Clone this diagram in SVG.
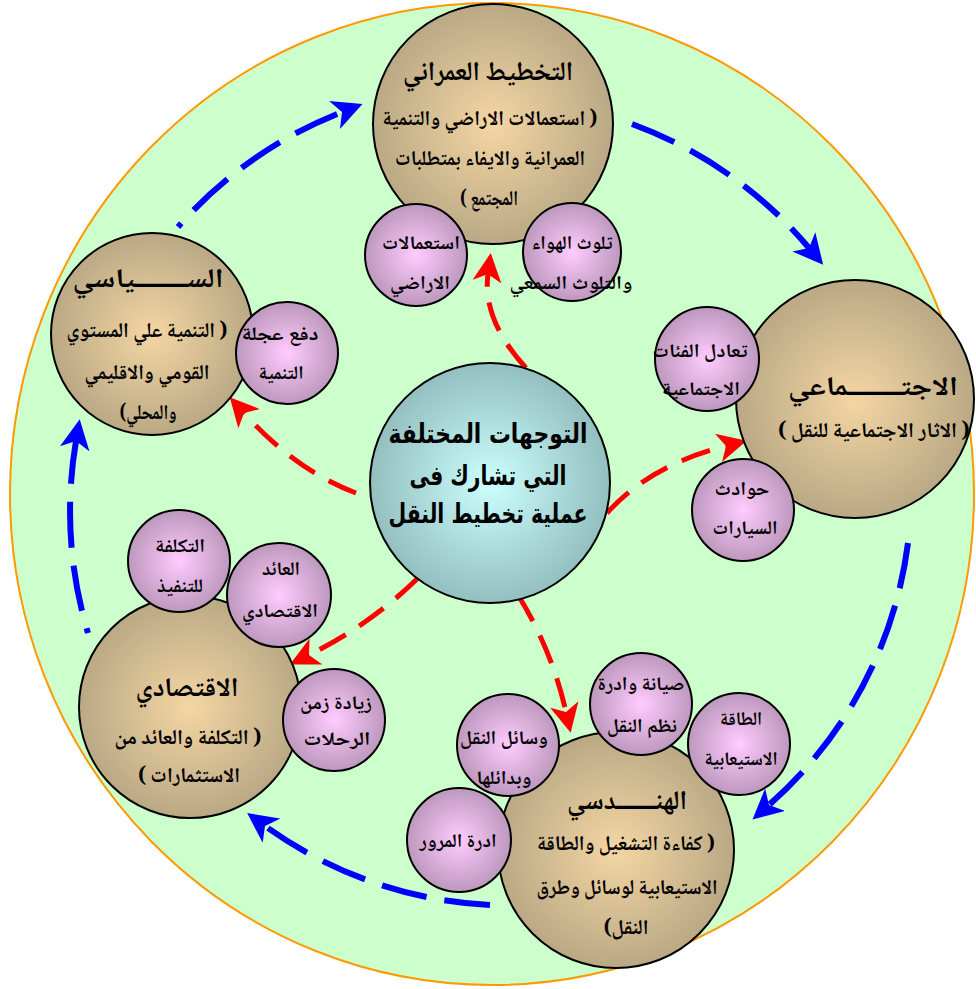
<svg xmlns="http://www.w3.org/2000/svg" width="976" height="989" viewBox="0 0 976 989">
  <defs>
    <radialGradient id="gBig" cx="50%" cy="50%" r="50%">
      <stop offset="0%" stop-color="#F4D6A3"/>
      <stop offset="100%" stop-color="#BAA985"/>
    </radialGradient>
    <radialGradient id="gSmall" cx="50%" cy="50%" r="50%">
      <stop offset="0%" stop-color="#FFCCFF"/>
      <stop offset="100%" stop-color="#BD98BD"/>
    </radialGradient>
    <radialGradient id="gCenter" cx="50%" cy="50%" r="50%">
      <stop offset="0%" stop-color="#CCFFFF"/>
      <stop offset="100%" stop-color="#93BFBF"/>
    </radialGradient>
    <marker id="arrBlue" viewBox="0 0 30 30" refX="8" refY="15" markerWidth="30" markerHeight="30" markerUnits="userSpaceOnUse" orient="auto">
      <path d="M0,0 L30,15 L0,30 L8,15 Z" fill="#0000FF"/>
    </marker>
    <marker id="arrRed" viewBox="0 0 30 30" refX="8" refY="15" markerWidth="29" markerHeight="29" markerUnits="userSpaceOnUse" orient="auto">
      <path d="M0,0 L30,15 L0,30 L8,15 Z" fill="#FF0000"/>
    </marker>
  </defs>
  <style>
    .big { fill: url(#gBig); stroke: #000; stroke-width: 2; }
    .small { fill: url(#gSmall); stroke: #000; stroke-width: 2; }
    .center { fill: url(#gCenter); stroke: #000; stroke-width: 2; }
    text { font-family: "Noto Naskh Arabic", "Noto Sans Arabic", "DejaVu Sans", sans-serif; fill: #000; text-anchor: middle; direction: rtl; font-weight: bold; }
    .ttl { font-size: 27px; }
    .txt { font-size: 21px; }
    .sm { font-size: 19px; }
    .ctr { font-family: "DejaVu Sans", sans-serif; font-size: 27px; }
    .blue { fill: none; stroke: #0000FF; stroke-width: 6; stroke-dasharray: 46 18; marker-end: url(#arrBlue); }
    .red { fill: none; stroke: #FF0000; stroke-width: 5; stroke-dasharray: 30 16; marker-end: url(#arrRed); }
  </style>

  <!-- background disc -->
  <ellipse cx="492" cy="494" rx="482" ry="491" fill="#CCFFCC" stroke="#FF9900" stroke-width="2"/>

  <!-- outer cycle and spokes -->
  <g id="connectors">
    <path class="blue" stroke-dashoffset="41" d="M178,227 A420,420 0 0 1 342,112"/>
    <path class="blue" d="M632,124 A420,420 0 0 1 809,248"/>
    <path class="blue" d="M908,543 A420,420 0 0 1 769,805"/>
    <path class="blue" d="M490,905 A420,420 0 0 1 265,826"/>
    <path class="blue" stroke-dashoffset="41" d="M88,633 A420,420 0 0 1 76,441"/>

    <path class="red" d="M526,368 Q482,320 488,274"/>
    <path class="red" d="M356,493 Q295,470 244,413"/>
    <path class="red" d="M607,513 Q650,465 726,446"/>
    <path class="red" d="M418,578 Q370,625 309,655"/>
    <path class="red" d="M518,595 Q552,650 566,712"/>
  </g>

  <!-- urban planning -->
  <g id="urban">
    <circle class="big" cx="493" cy="124" r="120"/>
    <text class="ttl" x="488" y="80" textLength="170" lengthAdjust="spacingAndGlyphs">التخطيط العمراني</text>
    <text class="txt" x="490" y="125" textLength="215" lengthAdjust="spacingAndGlyphs">( استعمالات الاراضي والتنمية</text>
    <text class="txt" x="490" y="165" textLength="190" lengthAdjust="spacingAndGlyphs">العمرانية والايفاء بمتطلبات</text>
    <text class="txt" x="489" y="205" textLength="58" lengthAdjust="spacingAndGlyphs">المجتمع )</text>
  </g>
  <g id="urban-landuse">
    <circle class="small" cx="416" cy="255" r="51"/>
    <text class="sm" x="421" y="249" textLength="78" lengthAdjust="spacingAndGlyphs">استعمالات</text>
    <text class="sm" x="420" y="289" textLength="60" lengthAdjust="spacingAndGlyphs">الاراضي</text>
  </g>
  <g id="urban-pollution">
    <circle class="small" cx="572" cy="252" r="49"/>
    <text class="sm" x="572" y="249" textLength="81" lengthAdjust="spacingAndGlyphs">تلوث الهواء</text>
    <text class="sm" x="571" y="289" textLength="123" lengthAdjust="spacingAndGlyphs">والتلوث السمعي</text>
  </g>

  <!-- political -->
  <g id="political">
    <circle class="big" cx="152" cy="334" r="101"/>
    <text class="ttl" x="148" y="287" textLength="151" lengthAdjust="spacingAndGlyphs">الســــــــياسي</text>
    <text class="txt" x="147" y="337" textLength="161" lengthAdjust="spacingAndGlyphs">( التنمية علي المستوي</text>
    <text class="txt" x="147" y="379" textLength="125" lengthAdjust="spacingAndGlyphs">القومي والاقليمي</text>
    <text class="txt" x="148" y="419" textLength="57" lengthAdjust="spacingAndGlyphs">والمحلي)</text>
  </g>
  <g id="political-push">
    <circle class="small" cx="287" cy="353" r="51"/>
    <text class="sm" x="280" y="340" textLength="77" lengthAdjust="spacingAndGlyphs">دفع عجلة</text>
    <text class="sm" x="281" y="379" textLength="45" lengthAdjust="spacingAndGlyphs">التنمية</text>
  </g>

  <!-- social -->
  <g id="social">
    <circle class="big" cx="855" cy="399" r="119"/>
    <text class="ttl" x="873" y="395" textLength="170" lengthAdjust="spacingAndGlyphs">الاجتــــــــماعي</text>
    <text class="txt" x="874" y="437" textLength="192" lengthAdjust="spacingAndGlyphs">( الاثار الاجتماعية للنقل )</text>
  </g>
  <g id="social-balance">
    <circle class="small" cx="707" cy="359" r="52"/>
    <text class="sm" x="700" y="357" textLength="95" lengthAdjust="spacingAndGlyphs">تعادل الفئات</text>
    <text class="sm" x="701" y="395" textLength="78" lengthAdjust="spacingAndGlyphs">الاجتماعية</text>
  </g>
  <g id="social-accidents">
    <circle class="small" cx="743" cy="510" r="51"/>
    <text class="sm" x="742" y="495" textLength="55" lengthAdjust="spacingAndGlyphs">حوادث</text>
    <text class="sm" x="745" y="534" textLength="65" lengthAdjust="spacingAndGlyphs">السيارات</text>
  </g>

  <!-- central topic -->
  <g id="core">
    <circle class="center" cx="490" cy="483" r="120"/>
    <text class="ctr" x="488" y="443" textLength="199" lengthAdjust="spacingAndGlyphs">التوجهات المختلفة</text>
    <text class="ctr" x="488" y="485" textLength="157" lengthAdjust="spacingAndGlyphs">التي تشارك فى</text>
    <text class="ctr" x="488" y="523" textLength="199" lengthAdjust="spacingAndGlyphs">عملية تخطيط النقل</text>
  </g>

  <!-- economic -->
  <g id="economic">
    <circle class="big" cx="190" cy="707" r="111"/>
    <text class="ttl" x="187" y="696" textLength="103" lengthAdjust="spacingAndGlyphs">الاقتصادي</text>
    <text class="txt" x="188" y="744" textLength="147" lengthAdjust="spacingAndGlyphs">( التكلفة والعائد من</text>
    <text class="txt" x="189" y="782" textLength="102" lengthAdjust="spacingAndGlyphs">الاستثمارات )</text>
  </g>
  <g id="economic-cost">
    <circle class="small" cx="179" cy="561" r="51"/>
    <text class="sm" x="180" y="552" textLength="50" lengthAdjust="spacingAndGlyphs">التكلفة</text>
    <text class="sm" x="180" y="592" textLength="46" lengthAdjust="spacingAndGlyphs">للتنفيذ</text>
  </g>
  <g id="economic-return">
    <circle class="small" cx="279" cy="595" r="52"/>
    <text class="sm" x="281" y="575" textLength="38" lengthAdjust="spacingAndGlyphs">العائد</text>
    <text class="sm" x="280" y="617" textLength="76" lengthAdjust="spacingAndGlyphs">الاقتصادي</text>
  </g>
  <g id="economic-time">
    <circle class="small" cx="334" cy="720" r="51"/>
    <text class="sm" x="336" y="709" textLength="72" lengthAdjust="spacingAndGlyphs">زيادة زمن</text>
    <text class="sm" x="337" y="745" textLength="67" lengthAdjust="spacingAndGlyphs">الرحلات</text>
  </g>

  <!-- engineering -->
  <g id="engineering">
    <circle class="big" cx="616" cy="850" r="118"/>
    <text class="ttl" x="627" y="809" textLength="120" lengthAdjust="spacingAndGlyphs">الهنـــــــدسي</text>
    <text class="txt" x="626" y="850" textLength="178" lengthAdjust="spacingAndGlyphs">( كفاءة التشغيل والطاقة</text>
    <text class="txt" x="627" y="894" textLength="181" lengthAdjust="spacingAndGlyphs">الاستيعابية لوسائل وطرق</text>
    <text class="txt" x="626" y="934" textLength="45" lengthAdjust="spacingAndGlyphs">النقل)</text>
  </g>
  <g id="engineering-modes">
    <circle class="small" cx="508" cy="745" r="51"/>
    <text class="sm" x="504" y="744" textLength="88" lengthAdjust="spacingAndGlyphs">وسائل النقل</text>
    <text class="sm" x="504" y="784" textLength="55" lengthAdjust="spacingAndGlyphs">وبدائلها</text>
  </g>
  <g id="engineering-maintenance">
    <circle class="small" cx="641" cy="704" r="51"/>
    <text class="sm" x="641" y="690" textLength="87" lengthAdjust="spacingAndGlyphs">صيانة وادرة</text>
    <text class="sm" x="642" y="732" textLength="70" lengthAdjust="spacingAndGlyphs">نظم النقل</text>
  </g>
  <g id="engineering-capacity">
    <circle class="small" cx="739" cy="744" r="51"/>
    <text class="sm" x="741" y="725" textLength="42" lengthAdjust="spacingAndGlyphs">الطاقة</text>
    <text class="sm" x="741" y="765" textLength="73" lengthAdjust="spacingAndGlyphs">الاستيعابية</text>
  </g>
  <g id="engineering-traffic">
    <circle class="small" cx="459" cy="840" r="52"/>
    <text class="sm" x="458" y="847" textLength="77" lengthAdjust="spacingAndGlyphs">ادرة المرور</text>
  </g>
</svg>
